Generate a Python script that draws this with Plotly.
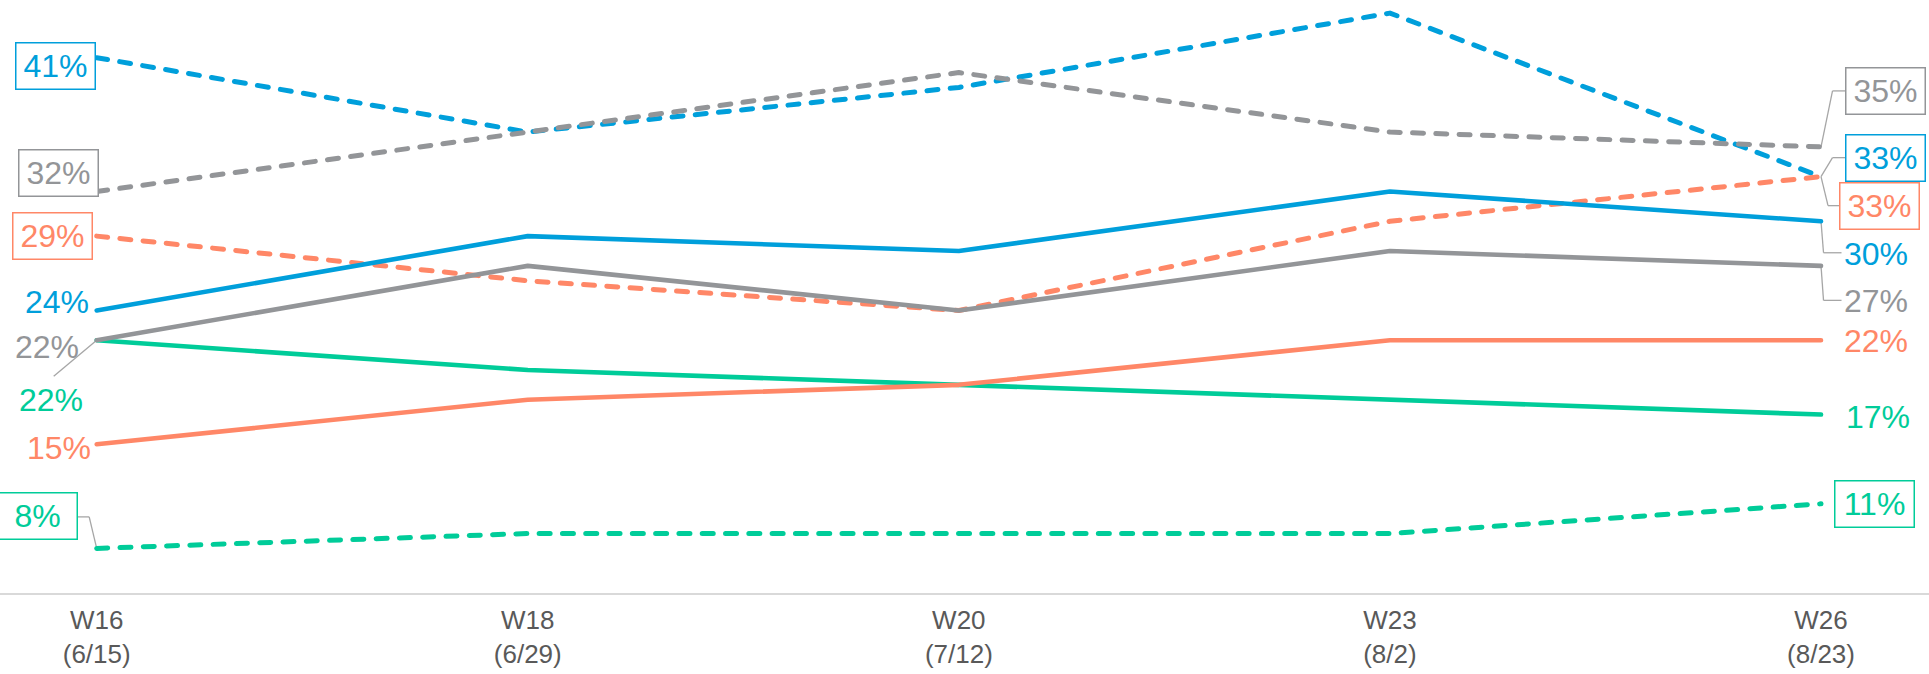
import plotly.graph_objects as go

# ---- data ----
weeks = ["W16", "W18", "W20", "W23", "W26"]
dates = ["(6/15)", "(6/29)", "(7/12)", "(8/2)", "(8/23)"]

blue_solid = [24, 29, 28, 32, 30]
gray_solid = [22, 27, 24, 28, 27]
orange_solid = [15, 18, 19, 22, 22]
green_solid = [22, 20, 19, 18, 17]

blue_dashed = [41, 36, 39, 44, 33]
gray_dashed = [32, 36, 40, 36, 35]
orange_dashed = [29, 26, 24, 30, 33]
green_dashed = [8, 9, 9, 9, 11]

# ---- styles ----
BLUE = "#009FDB"
GRAY = "#939598"
ORANGE = "#FF8767"
GREEN = "#00CC99"
LEADER = "#A6A6A6"
FONT = "Liberation Sans, Arial, sans-serif"

x_idx = list(range(len(weeks)))
tick_text = [f"{w}<br>{d}" for w, d in zip(weeks, dates)]

series = [
    ("blue_dashed", blue_dashed, BLUE, True),
    ("gray_dashed", gray_dashed, GRAY, True),
    ("orange_dashed", orange_dashed, ORANGE, True),
    ("green_dashed", green_dashed, GREEN, True),
    ("green_solid", green_solid, GREEN, False),
    ("orange_solid", orange_solid, ORANGE, False),
    ("gray_solid", gray_solid, GRAY, False),
    ("blue_solid", blue_solid, BLUE, False),
]

fig = go.Figure()
for name, vals, col, dashed in series:
    fig.add_trace(go.Scatter(
        x=x_idx, y=vals, mode="lines", name=name,
        line=dict(color=col, width=5 if dashed else 4.6,
                  dash="11px,12.3px" if dashed else "solid"),
        hoverinfo="skip",
    ))

annotations = []
shapes = []


def label(xi, val, col, side, dx, dy, boxed):
    a = dict(
        x=xi, y=val, xref="x", yref="y", showarrow=False,
        text=f"{val}%",
        font=dict(family=FONT, size=32, color=col),
        xanchor="right" if side == "left" else "left",
        yanchor="middle",
        xshift=dx, yshift=dy,
    )
    if boxed:
        a.update(bordercolor=col, borderwidth=1.5, borderpad=1,
                 bgcolor="white", width=76, height=43)
    annotations.append(a)


def leader(xi, val, pts):
    for (x0, y0), (x1, y1) in zip(pts[:-1], pts[1:]):
        shapes.append(dict(
            type="line", xref="x", yref="y",
            xsizemode="pixel", xanchor=xi, x0=x0, x1=x1,
            ysizemode="pixel", yanchor=val, y0=y0, y1=y1,
            line=dict(color=LEADER, width=1.3), layer="below",
        ))


first, last = 0, len(weeks) - 1

# left labels
label(first, blue_dashed[0], BLUE, "left", -1, -8, True)
label(first, gray_dashed[0], GRAY, "left", 2, 19, True)
label(first, orange_dashed[0], ORANGE, "left", -4, 0, True)
label(first, blue_solid[0], BLUE, "left", -6, 8, False)
label(first, gray_solid[0], GRAY, "left", -16, -7, False)
label(first, green_solid[0], GREEN, "left", -12, -60, False)
leader(first, green_solid[0], [(-43, -36), (0, 0)])
label(first, orange_solid[0], ORANGE, "left", -4, -4, False)
label(first, green_dashed[0], GREEN, "left", -19, 32, True)
leader(first, green_dashed[0], [(-19, 31.5), (-7.5, 31.5), (0, 0)])

# right labels
label(last, gray_dashed[-1], GRAY, "right", 24, 56, True)
leader(last, gray_dashed[-1], [(0, 0), (11.5, 56), (24, 56)])
label(last, blue_dashed[-1], BLUE, "right", 24, 18.5, True)
leader(last, blue_dashed[-1], [(0, 0), (11.5, 19), (24, 19)])
label(last, orange_dashed[-1], ORANGE, "right", 18, -29.5, True)
leader(last, orange_dashed[-1], [(0, 0), (7, -29), (18, -29)])
label(last, blue_solid[-1], BLUE, "right", 21, -32.5, False)
leader(last, blue_solid[-1], [(0, 0), (2.5, -31.5), (20.5, -31.5)])
label(last, gray_solid[-1], GRAY, "right", 21, -35, False)
leader(last, gray_solid[-1], [(0, 0), (2.5, -34.5), (20.5, -34.5)])
label(last, orange_solid[-1], ORANGE, "right", 21, -1, False)
label(last, green_solid[-1], GREEN, "right", 23, -2.5, False)
label(last, green_dashed[-1], GREEN, "right", 13, 0, True)

fig.update_layout(
    width=1929, height=674,
    margin=dict(l=0, r=0, t=0, b=81),
    paper_bgcolor="white", plot_bgcolor="white",
    showlegend=False,
    hovermode=False,
    annotations=annotations,
    shapes=shapes,
    xaxis=dict(
        tickmode="array", tickvals=x_idx, ticktext=tick_text,
        range=[-0.2243, 4.2505],
        showgrid=False, zeroline=False,
        showline=True, linecolor="#D9D9D9", linewidth=2,
        ticks="", ticklabelstandoff=3,
        tickfont=dict(family=FONT, size=26, color="#595959"),
        fixedrange=True,
    ),
    yaxis=dict(
        range=[5, 44.88], visible=False, showgrid=False, zeroline=False,
        fixedrange=True,
    ),
)

post = (
    "var s=document.createElement('style');"
    "s.innerHTML='html,body{margin:0!important;padding:0!important;overflow:hidden}"
    ".scatterlayer .js-line{stroke-linecap:round!important;stroke-linejoin:round!important}';"
    "document.head.appendChild(s);"
)

fig.write_html("out.html", post_script=post, config={"displayModeBar": False})
